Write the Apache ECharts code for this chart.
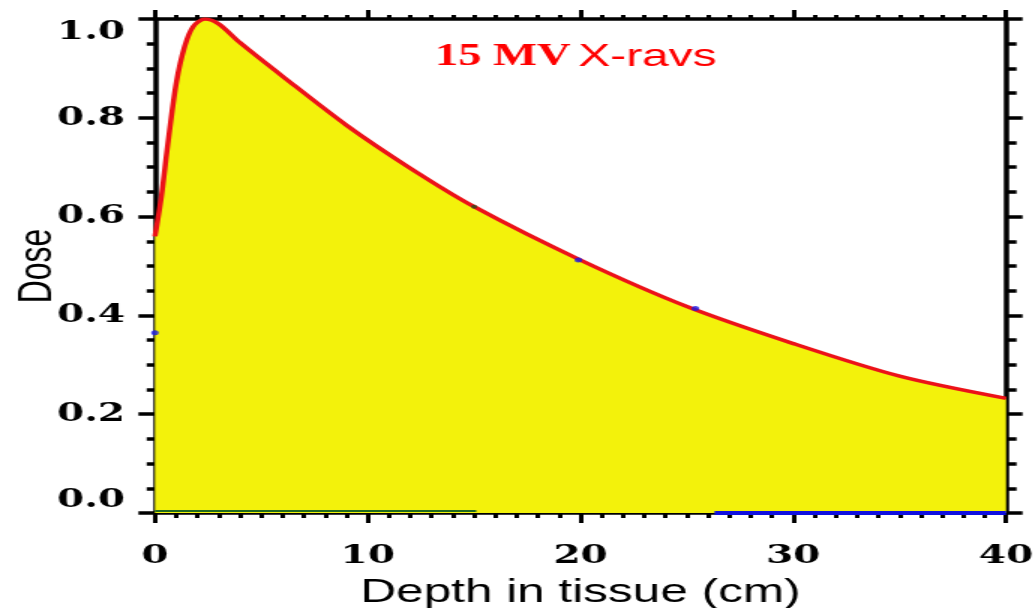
<!DOCTYPE html>
<html lang="en">
<head>
    <meta charset="UTF-8">
    <title>15 MV X-rays depth dose</title>
    <script src="https://cdn.jsdelivr.net/npm/echarts@6/dist/echarts.min.js"></script>
</head>
<style>
    *{
        margin: 0;
        padding: 0;
    }
    html,body{
        width: 100%;
        height: 100%;
        overflow: hidden;
        background: #fff;
    }
    /* the original picture is stretched sideways, so draw narrow and stretch */
    .container{
        width: 689px;
        height: 608px;
        transform: scaleX(1.5);
        transform-origin: 0 0;
    }
</style>
<body>
<div class="container"></div>
<script>
   // depth dose curve
   let depth = [0, 0.3, 0.6, 1.0, 1.4, 1.8, 2.35, 3.0, 4.0, 6.0, 9.0, 12, 15, 20, 25, 30, 35, 40];
   let dose  = [0.56, 0.64, 0.745, 0.87, 0.945, 0.985, 1.0, 0.99, 0.952, 0.884, 0.785, 0.698, 0.62, 0.512, 0.418, 0.343, 0.277, 0.232];

   // stray marks along the floor and on the curve
   let greenFloor = [[0, 0.004], [15.1, 0.004]];
   let blueFloor = [[26.3, 0], [40, 0]];
   let blueDots = [[19.9, 0.512], [25.4, 0.414], [0, 0.365]];
   let greenDots = [[15.0, 0.62]];

   let xTicks = {min: 0, max: 40, interval: 10};
   let yTicks = {min: 0, max: 1, interval: 0.2};

   let container = document.querySelector('.container');
   let mycharts = echarts.init(container);

   let curve = depth.map((d, i) => [d, dose[i]]);

   let black = '#000';
   let labelFont = {
       fontFamily: 'DejaVu Serif',
       fontWeight: 'bold',
       fontSize: 26,
       color: black
   };

   function xAxis(pos, major, minor, showLabel) {
       return {
           type: 'value',
           position: pos,
           min: xTicks.min,
           max: xTicks.max,
           interval: xTicks.interval,
           axisLine: {show: true, onZero: false, lineStyle: {color: black, width: 3.5}},
           axisTick: {show: true, inside: false, length: major, lineStyle: {color: black, width: 3}},
           minorTick: {show: true, splitNumber: 10, length: minor, lineStyle: {color: black, width: 3}},
           splitLine: {show: false},
           axisLabel: Object.assign({show: showLabel, margin: 30}, labelFont)
       };
   }

   function yAxis(pos, major, minor, showLabel) {
       return {
           type: 'value',
           position: pos,
           min: yTicks.min,
           max: yTicks.max,
           interval: yTicks.interval,
           axisLine: {show: true, onZero: false, lineStyle: {color: black, width: 3.5}},
           axisTick: {show: true, inside: false, length: major, lineStyle: {color: black, width: 3.5}},
           minorTick: {show: true, splitNumber: 4, length: minor, lineStyle: {color: black, width: 3.5}},
           splitLine: {show: false},
           axisLabel: Object.assign({
               show: showLabel,
               margin: 20,
               formatter: v => v.toFixed(1),
               verticalAlignMinLabel: 'bottom',
               verticalAlignMaxLabel: 'top'
           }, labelFont)
       };
   }

   let bottom = xAxis('bottom', 10, 5, true);
   bottom.name = 'Depth in tissue (cm)';
   bottom.nameLocation = 'middle';
   bottom.nameGap = 63;
   bottom.nameMoveOverlap = false;
   bottom.nameTextStyle = {fontFamily: 'Liberation Sans', fontSize: 33, color: black};

   let left = yAxis('left', 11, 5.5, true);
   left.name = 'Dose';
   left.nameLocation = 'middle';
   left.nameGap = 62;
   left.nameRotate = 90;
   left.nameMoveOverlap = false;
   left.nameTextStyle = {fontFamily: 'Liberation Sans', fontSize: 32, color: black};

   let options = {
       animation: false,
       backgroundColor: '#fff',
       title: {
           text: '{a|15 MV} {b|X-ravs}',
           left: 290,
           top: 41,
           padding: 0,
           textStyle: {
               rich: {
                   a: {fontFamily: 'Liberation Serif', fontWeight: 'bold', fontSize: 31, color: '#ff0000'},
                   b: {fontFamily: 'Liberation Sans', fontWeight: 'normal', fontSize: 32, color: '#ff0000'}
               }
           }
       },
       grid: {left: 103.3, right: 18.3, top: 19, bottom: 95, outerBoundsMode: 'none', containLabel: false},
       xAxis: [bottom, xAxis('top', 9, 4, false)],
       yAxis: [left, yAxis('right', 11, 7, false)],
       series: [
           {
               name: 'dose',
               type: 'line',
               data: curve,
               smooth: 0.3,
               symbol: 'none',
               lineStyle: {color: '#ec1218', width: 3.5},
               areaStyle: {color: '#f3f20b', opacity: 1, origin: 'start'},
               z: 3
           },
           {
               type: 'line',
               data: greenFloor,
               symbol: 'none',
               lineStyle: {color: '#1f6a1f', width: 2},
               z: 4
           },
           {
               type: 'line',
               data: blueFloor,
               symbol: 'none',
               lineStyle: {color: '#1010e0', width: 4},
               z: 4
           },
           {
               type: 'scatter',
               data: blueDots,
               symbolSize: 5,
               itemStyle: {color: '#1a1ae6'},
               z: 5
           },
           {
               type: 'scatter',
               data: greenDots,
               symbolSize: 4,
               itemStyle: {color: '#2b4a1c'},
               z: 5
           }
       ]
   };

   mycharts.setOption(options);
</script>

</body>
</html>
